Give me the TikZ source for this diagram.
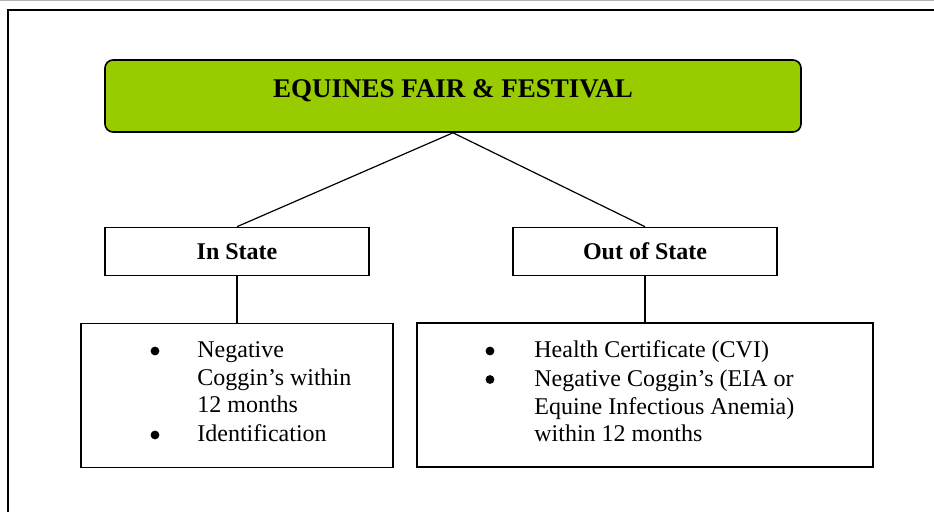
\documentclass[tikz,border=0pt]{standalone}
\usepackage{fontspec}
\setmainfont{Liberation Serif}
\usetikzlibrary{positioning}
\definecolor{festgreen}{HTML}{99CC00}
\tikzset{
        framebox/.style = {draw, rectangle, line width=0.8pt, inner sep=0pt},
        titlebox/.style = {framebox, fill=festgreen, rounded corners=4pt,
            minimum width=348pt, minimum height=36pt},
        statebox/.style = {framebox, minimum width=132pt, minimum height=24pt,
            font=\fontsize{12pt}{13.8pt}\selectfont\bfseries},
        listbox/.style = {framebox, minimum height=72pt},
        link/.style = {draw, line width=0.6pt},
        itemtext/.style = {anchor=base west, inner sep=0pt, align=left,
            font=\fontsize{12pt}{13.7pt}\selectfont},
        dot/.style = {circle, fill, inner sep=0pt, minimum size=4.4pt},
    }

\begin{document}
\begin{tikzpicture}[x=0.5pt,y=-0.5pt]
    \useasboundingbox (0,0) rectangle (934,512);

    % page frame
    \draw [gray!60, line width=0.5pt] (0,0.6) -- (934,0.6);
    \draw [line width=0.8pt] (934,10) -- (8,10) -- (8,512);

    % title
    \node [titlebox] (title) at (453,96) {};
    \node [anchor=base, inner sep=0pt, font=\fontsize{13.5pt}{15pt}\selectfont\bfseries] (titletext) at (453,98) {EQUINES FAIR \& FESTIVAL};

    % second level
    \node [statebox] (instate) at (237,251.5) {In State};
    \node [statebox] (outstate) at (645,251.5) {Out of State};

    % requirement lists
    \node [listbox, minimum width=156pt] (inlist) at (237,395.5) {};
    \node [listbox, minimum width=228pt] (outlist) at (645,395) {};

    \draw [link] (title.south) -- (instate.north);
    \draw [link] (title.south) -- (outstate.north);
    \draw [link] (instate.south) -- (inlist.north);
    \draw [link] (outstate.south) -- (outlist.north);

    % In State items (base anchor sits on the last line)
    \node [dot] (indotA) at (155,351) {};
    \node [itemtext] (initemA) at (197,412.7) {Negative\\Coggin’s within\\12 months};
    \node [dot] (indotB) at (155,435) {};
    \node [itemtext] (initemB) at (197,442) {Identification};

    % Out of State items
    \node [dot] (outdotA) at (490,351) {};
    \node [itemtext] (outitemA) at (534,358) {Health Certificate (CVI)};
    \node [dot] (outdotB) at (490,379.5) {};
    \node [itemtext] (outitemB) at (534,441.7) {Negative Coggin’s (EIA or\\Equine Infectious Anemia)\\within 12 months};
\end{tikzpicture}
\end{document}
